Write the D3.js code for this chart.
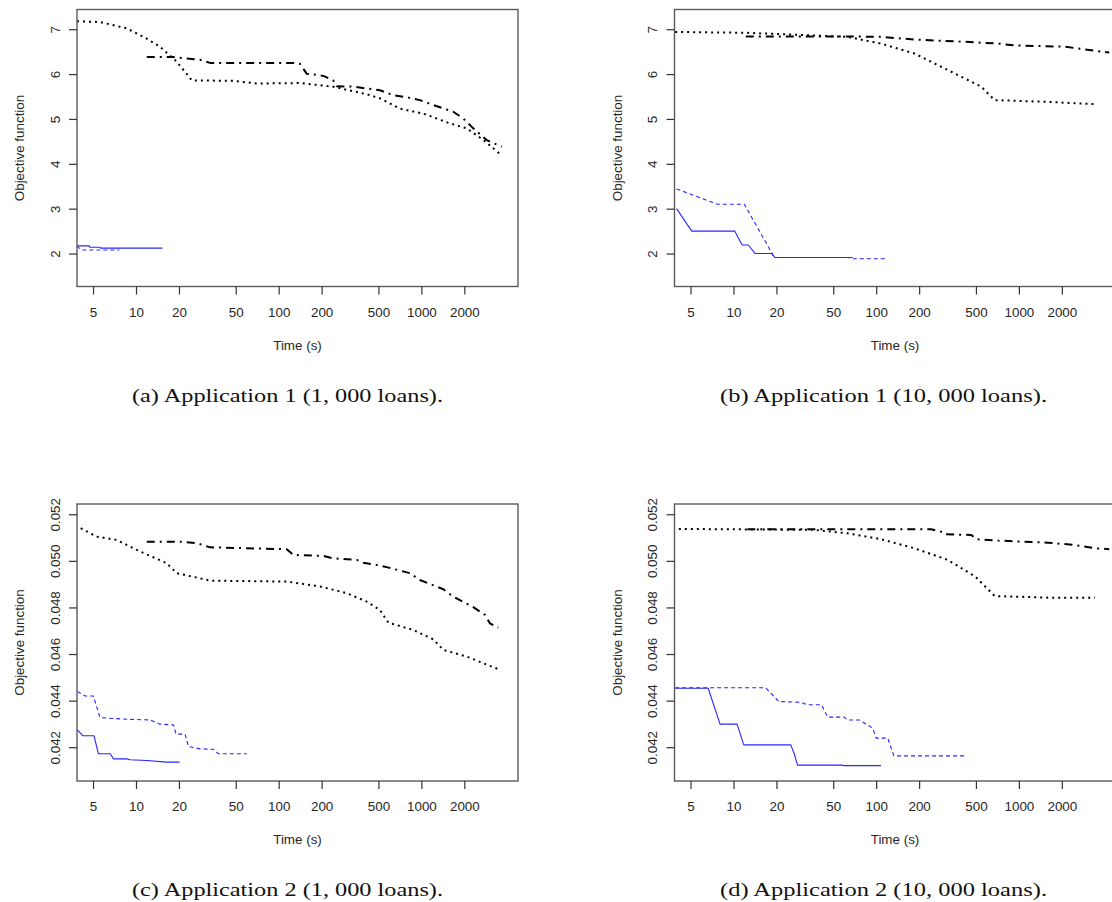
<!DOCTYPE html>
<html><head><meta charset="utf-8">
<script src="https://cdn.jsdelivr.net/npm/d3@7"></script>
<style>body{margin:0;background:#fff} svg{display:block}</style>
</head><body>
<svg id="chart" width="1112" height="902"></svg>
<script>
// ---------- tick labels / text ----------
const timeTicks = [5, 10, 20, 50, 100, 200, 500, 1000, 2000];
const yTicksApp1 = [2, 3, 4, 5, 6, 7];
const yTicksApp2 = [0.042, 0.044, 0.046, 0.048, 0.050, 0.052];
const xTitle = "Time (s)";
const yTitle = "Objective function";
const captions = [
  "(a) Application 1 (1, 000 loans).",
  "(b) Application 1 (10, 000 loans).",
  "(c) Application 2 (1, 000 loans).",
  "(d) Application 2 (10, 000 loans)."
];

// ---------- data: [time (s), objective] ----------
// (a) Application 1, 1,000 loans
const a_dotted = [[3.86,7.18],[5.6,7.16],[8.6,7.02],[11.9,6.79],[14.7,6.61],[18.8,6.31],[22.1,6.05],[24.6,5.86],[48,5.85],[70,5.79],[141,5.80],[241,5.72],[414,5.55],[512,5.46],[708,5.23],[1031,5.12],[1588,4.90],[2078,4.79],[2722,4.53],[3557,4.22]];
const a_dotdash = [[11.9,6.38],[18.3,6.38],[28.1,6.32],[33,6.25],[127,6.25],[141,6.23],[157,6.01],[206,5.96],[241,5.86],[255,5.73],[333,5.72],[512,5.64],[635,5.53],[832,5.47],[976,5.42],[1212,5.31],[1673,5.16],[1967,5.01],[2311,4.79],[2870,4.53],[3654,4.38]];
const a_solid = [[3.86,2.17],[4.7,2.17],[4.75,2.14],[5.6,2.14],[5.65,2.12],[15.3,2.12]];
const a_dashed = [[3.86,2.17],[4.12,2.08],[7.65,2.08]];
// (b) Application 1, 10,000 loans
const b_dotted = [[3.9,6.94],[12.5,6.92],[63,6.83],[108,6.68],[185,6.46],[318,6.09],[545,5.72],[676,5.42],[1603,5.38],[3410,5.33]];
const b_dotdash = [[12.2,6.84],[63,6.84],[108,6.83],[185,6.77],[416,6.72],[715,6.68],[935,6.64],[2100,6.61],[3410,6.52],[4300,6.48]];
const b_solid = [[3.99,3.0],[5.1,2.5],[10.2,2.5],[11.5,2.19],[12.7,2.19],[14.2,2.0],[18.5,2.0],[19.6,1.91],[68.5,1.91]];
const b_dashed = [[3.99,3.44],[7.7,3.10],[11.9,3.10],[19.2,1.93],[19.8,1.91],[64,1.91],[68,1.885],[116,1.885]];
// (c) Application 2, 1,000 loans
const c_dotted = [[4.1,0.0514],[5.3,0.05104],[7.3,0.0509],[10.7,0.0504],[16.4,0.0499],[19.3,0.04947],[28.1,0.04925],[33,0.04915],[114,0.04911],[195,0.0489],[300,0.04861],[414,0.04825],[512,0.04789],[586,0.04735],[879,0.04703],[1212,0.04663],[1425,0.04618],[2078,0.04589],[3557,0.04532]];
const c_dotdash = [[11.9,0.05082],[20.4,0.05082],[26.7,0.05076],[33,0.05058],[114,0.0505],[127,0.05025],[206,0.05021],[241,0.05011],[353,0.05004],[392,0.04992],[486,0.04982],[571,0.04973],[832,0.04947],[976,0.04918],[1425,0.04878],[1673,0.04846],[2311,0.04801],[2793,0.04768],[3022,0.04732],[3460,0.04713]];
const c_solid = [[3.88,0.04274],[4.25,0.04249],[5.08,0.04249],[5.45,0.04172],[6.6,0.04172],[6.96,0.0415],[8.6,0.0415],[9.1,0.04146],[11.9,0.04143],[16.4,0.04136],[20.2,0.04136]];
const c_dashed = [[3.88,0.04439],[4.4,0.0442],[5.02,0.0442],[5.6,0.04327],[8.6,0.0432],[12.6,0.04317],[14.7,0.04299],[18.3,0.04296],[19.1,0.04256],[22.1,0.04256],[23.3,0.04203],[28.1,0.04193],[34.9,0.04191],[37.8,0.04172],[59.8,0.04172]];
// (d) Application 2, 10,000 loans
const d_dotted = [[4.14,0.05137],[36.8,0.05133],[63,0.05118],[108,0.05093],[185,0.05054],[318,0.05004],[496,0.04932],[676,0.04849],[1603,0.04842],[3410,0.04842]];
const d_dotdash = [[12.5,0.05136],[243,0.05136],[286,0.05125],[302,0.05114],[464,0.05111],[503,0.05093],[715,0.05087],[1603,0.05078],[2470,0.05068],[3410,0.05054],[4300,0.0505]];
const d_solid = [[3.9,0.04453],[6.65,0.04453],[8.05,0.04299],[10.6,0.04299],[11.8,0.0421],[25.2,0.0421],[26.6,0.04173],[28.1,0.04123],[58.2,0.04123],[59,0.04121],[108,0.04121]];
const d_dashed = [[3.9,0.04455],[16.8,0.04455],[20.8,0.04396],[29.6,0.04393],[33,0.04382],[41.4,0.04382],[45.7,0.04329],[59.7,0.04329],[63,0.04317],[76.2,0.04317],[94.6,0.04282],[100,0.04239],[120.6,0.04239],[133,0.04163],[427,0.04163]];

// ---------- layout ----------
const W = 441, H = 277;
const xDomain = [3.86, 4755];
const panels = [
  {x0: 77,    y0: 9.5, yDomain: [1.265, 7.44],     yTicks: yTicksApp1, fmt: d3.format("d"),
   series: {dotted: a_dotted, dotdash: a_dotdash, solid: a_solid, dashed: a_dashed}, caption: captions[0], capX: 287.5, capY: 402},
  {x0: 674.5, y0: 9.5, yDomain: [1.265, 7.44],     yTicks: yTicksApp1, fmt: d3.format("d"),
   series: {dotted: b_dotted, dotdash: b_dotdash, solid: b_solid, dashed: b_dashed}, caption: captions[1], capX: 883.5, capY: 402},
  {x0: 77,    y0: 504, yDomain: [0.04055, 0.05244], yTicks: yTicksApp2, fmt: d3.format(".3f"),
   series: {dotted: c_dotted, dotdash: c_dotdash, solid: c_solid, dashed: c_dashed}, caption: captions[2], capX: 287.5, capY: 896},
  {x0: 674.5, y0: 504, yDomain: [0.04055, 0.05244], yTicks: yTicksApp2, fmt: d3.format(".3f"),
   series: {dotted: d_dotted, dotdash: d_dotdash, solid: d_solid, dashed: d_dashed}, caption: captions[3], capX: 883.5, capY: 896}
];
const styles = {
  dotted:  {stroke: "#000", width: 2,   dash: "2 4"},
  dotdash: {stroke: "#000", width: 2,   dash: "8 5 2 5"},
  solid:   {stroke: "#2626ff", width: 1.1, dash: null},
  dashed:  {stroke: "#2626ff", width: 1.1, dash: "4 3"}
};

const svg = d3.select("#chart");
const font = "Liberation Sans, Arial, sans-serif";
const fs = 13.4;
const textCol = "#262626";

panels.forEach((p, i) => {
  const g = svg.append("g").attr("transform", `translate(${p.x0},${p.y0})`);
  const x = d3.scaleLog().domain(xDomain).range([0, W]);
  const y = d3.scaleLinear().domain(p.yDomain).range([H, 0]);

  // lines
  const line = d3.line().x(d => x(d[0])).y(d => y(d[1]));
  ["dotted", "dotdash", "dashed", "solid"].forEach(k => {
    const s = styles[k];
    g.append("path").datum(p.series[k])
      .attr("d", line).attr("fill", "none")
      .attr("stroke", s.stroke).attr("stroke-width", s.width)
      .attr("stroke-dasharray", s.dash)
      .attr("stroke-linejoin", "round");
  });

  // box
  g.append("rect").attr("x", 0).attr("y", 0).attr("width", W).attr("height", H)
    .attr("fill", "none").attr("stroke", "#5a5a5a").attr("stroke-width", 1.4);

  // x axis
  const xa = g.append("g").attr("transform", `translate(0,${H})`)
    .call(d3.axisBottom(x).tickValues(timeTicks).tickFormat(d3.format("d")).tickSizeOuter(0).tickSizeInner(8));
  xa.select(".domain").remove();
  xa.selectAll(".tick line").attr("stroke", "#333").attr("stroke-width", 1.2);
  xa.selectAll(".tick text").attr("y", 30).attr("dy", 0)
    .attr("font-family", font).attr("font-size", fs).attr("fill", textCol);

  // y axis
  const ya = g.append("g")
    .call(d3.axisLeft(y).tickValues(p.yTicks).tickFormat(p.fmt).tickSizeOuter(0).tickSizeInner(8));
  ya.select(".domain").remove();
  ya.selectAll(".tick line").attr("stroke", "#333").attr("stroke-width", 1.2);
  ya.selectAll(".tick text").attr("x", 0).attr("y", -17.5).attr("dy", 0)
    .attr("transform", "rotate(-90)").attr("text-anchor", "middle")
    .attr("font-family", font).attr("font-size", fs).attr("fill", textCol);

  // titles
  g.append("text").attr("x", W / 2).attr("y", H + 63)
    .attr("text-anchor", "middle").attr("font-family", font).attr("font-size", fs)
    .attr("fill", textCol).text(xTitle);
  g.append("text").attr("transform", `translate(-53,${H / 2}) rotate(-90)`)
    .attr("text-anchor", "middle").attr("font-family", font).attr("font-size", fs)
    .attr("fill", textCol).text(yTitle);

  // caption
  const capLen = i % 2 === 1 ? 327 : 311;
  svg.append("text").attr("x", p.capX).attr("y", p.capY)
    .attr("text-anchor", "middle").attr("font-family", "Liberation Serif, Times New Roman, serif")
    .attr("font-size", 19.5).attr("fill", "#111")
    .attr("textLength", capLen).attr("lengthAdjust", "spacingAndGlyphs")
    .text(p.caption);
});
</script>
</body></html>
